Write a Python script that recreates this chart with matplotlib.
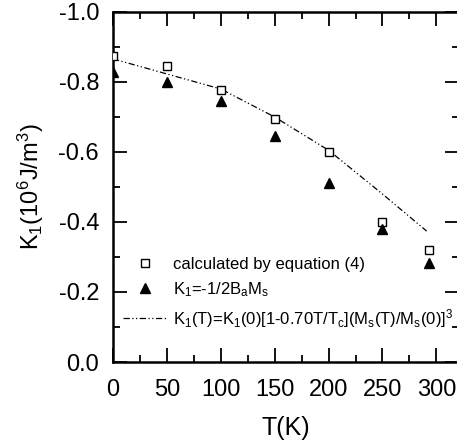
import numpy as np
import matplotlib
matplotlib.use('Agg')
import matplotlib.pyplot as plt
from matplotlib.ticker import MultipleLocator

plt.rcParams['font.family'] = ['Liberation Sans', 'DejaVu Sans']
plt.rcParams['mathtext.fontset'] = 'custom'
plt.rcParams['mathtext.rm'] = 'Liberation Sans'
plt.rcParams['mathtext.it'] = 'Liberation Sans'

# data
T_pts = [0, 50, 100, 150, 200, 250, 293]
K_eq4 = [-0.875, -0.846, -0.777, -0.694, -0.600, -0.400, -0.320]
K_BaMs = [-0.829, -0.800, -0.746, -0.646, -0.512, -0.380, -0.284]

T_fit = [0, 50, 100, 150, 200, 250, 291]
K_fit = [-0.866, -0.823, -0.780, -0.700, -0.605, -0.480, -0.374]

lab_sq = 'calculated by equation (4)'
lab_tri = r'K$_1$=-1/2B$_a$M$_s$'
lab_line = r'K$_1$(T)=K$_1$(0)[1-0.70T/T$_c$](M$_s$(T)/M$_s$(0)]$^3$'

fig = plt.figure(figsize=(4.57, 4.44), dpi=100)
ax = fig.add_axes([113/457, 1-362/444, 346/457, 350/444])

ax.plot(T_pts, K_eq4, 's', mfc='white', mec='black', mew=1.0, ms=6, label=lab_sq, zorder=3)
ax.plot(T_pts, K_BaMs, '^', color='black', ms=7.5, label=lab_tri, zorder=3)
ax.plot(T_fit, K_fit, color='black', lw=0.9, dashes=(5, 2, 1, 2, 1, 2), label=lab_line)

ax.set_xlim(0, 321)
ax.set_ylim(0, -1.0)
ax.xaxis.set_major_locator(MultipleLocator(50))
ax.xaxis.set_minor_locator(MultipleLocator(25))
ax.yaxis.set_minor_locator(MultipleLocator(0.1))
ax.set_yticks([0.0, -0.2, -0.4, -0.6, -0.8, -1.0])
ax.set_yticklabels(['0.0', '-0.2', '-0.4', '-0.6', '-0.8', '-1.0'])

ax.tick_params(which='both', direction='in', top=True, right=True, labelsize=17, width=1.3)
ax.tick_params(which='major', length=10)
ax.tick_params(axis='x', which='major', pad=12)
ax.tick_params(axis='y', which='major', pad=10)
ax.tick_params(which='minor', length=5)
for s in ax.spines.values():
    s.set_linewidth(1.8)

ax.set_xlabel('T(K)', fontsize=18, labelpad=11)
ax.set_ylabel(r'K$_1$(10$^6$J/m$^3$)', fontsize=17, labelpad=9)

ax.legend(loc='upper left', bbox_to_anchor=(0.0, 0.33), frameon=False, fontsize=12,
          handlelength=2.6, handletextpad=0.4, labelspacing=0.5, borderaxespad=0.2,
          markerscale=0.9)

fig.savefig('out.png', dpi=100)
